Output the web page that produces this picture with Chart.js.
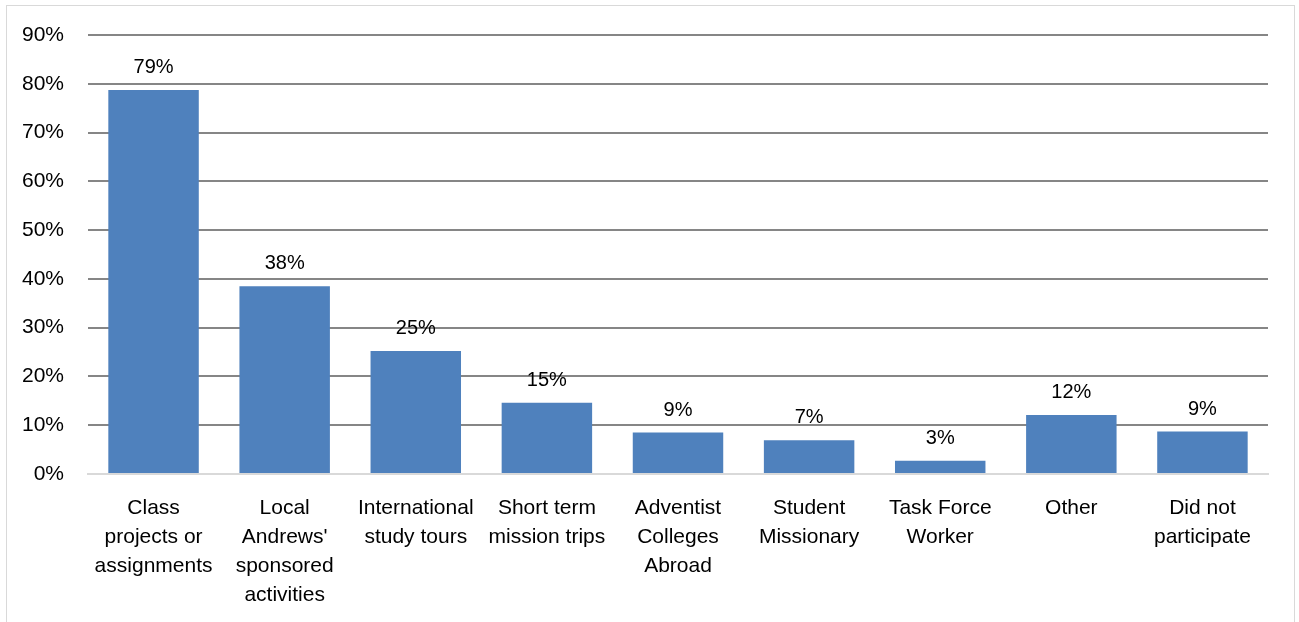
<!DOCTYPE html>
<html>
<head>
<meta charset="utf-8">
<script src="https://cdn.jsdelivr.net/npm/chart.js@4.4.1/dist/chart.umd.min.js"></script>
<style>
  html, body { margin: 0; padding: 0; background: #ffffff; }
  #wrap { position: absolute; left: 0; top: 0; width: 1299px; height: 622px; }
  #frame { position: absolute; left: 6px; top: 5px; width: 1289px; height: 640px; border: 1px solid #d9d9d9; box-sizing: border-box; }
</style>
</head>
<body>
<div id="frame"></div>
<div id="wrap"><canvas id="c" width="1299" height="622"></canvas></div>
<script>
const categories = [
  ["Class", "projects or", "assignments"],
  ["Local", "Andrews'", "sponsored", "activities"],
  ["International", "study tours"],
  ["Short term", "mission trips"],
  ["Adventist", "Colleges", "Abroad"],
  ["Student", "Missionary"],
  ["Task Force", "Worker"],
  ["Other"],
  ["Did not", "participate"]
];
const values = [78.7, 38.5, 25.2, 14.6, 8.5, 6.9, 2.7, 12.1, 8.7];
const dataLabels = ["79%", "38%", "25%", "15%", "9%", "7%", "3%", "12%", "9%"];
const yTicks = [0, 10, 20, 30, 40, 50, 60, 70, 80, 90];

const FONT = "'Liberation Sans', Arial, sans-serif";

const labelPlugin = {
  id: 'barLabels',
  afterDatasetsDraw(chart) {
    const ctx = chart.ctx;
    const meta = chart.getDatasetMeta(0);
    ctx.save();
    ctx.font = "20px " + FONT;
    ctx.fillStyle = "#000000";
    ctx.textAlign = "center";
    ctx.textBaseline = "alphabetic";
    meta.data.forEach((bar, i) => {
      ctx.fillText(dataLabels[i], bar.x, bar.y - 17);
    });
    ctx.restore();
  }
};

new Chart(document.getElementById('c'), {
  type: 'bar',
  data: {
    labels: categories,
    datasets: [{
      data: values,
      backgroundColor: '#4f81bd',
      borderWidth: 0,
      barPercentage: 0.69,
      categoryPercentage: 1.0
    }]
  },
  options: {
    responsive: false,
    animation: false,
    devicePixelRatio: 1,
    layout: { padding: { left: 0, right: 31, top: 35, bottom: 0 } },
    plugins: { legend: { display: false }, tooltip: { enabled: false } },
    scales: {
      x: {
        grid: { display: false, drawTicks: false },
        border: { display: true, color: '#d9d9d9', width: 2 },
        ticks: {
          color: '#000000',
          font: { family: FONT, size: 21, lineHeight: 1.38 },
          maxRotation: 0, minRotation: 0, autoSkip: false,
          padding: 20
        },
        afterFit(scale) { scale.height = 148; scale.paddingLeft = 0; scale.paddingRight = 0; }
      },
      y: {
        min: 0, max: 90,
        afterBuildTicks(scale) { scale.ticks = yTicks.map(v => ({ value: v })); },
        grid: { color: '#868686', lineWidth: 2, drawTicks: false },
        border: { display: false },
        ticks: {
          color: '#000000',
          font: { family: FONT, size: 21 },
          padding: 24,
          callback: v => v + '%'
        },
        afterFit(scale) { scale.width = 88; scale.paddingTop = 0; scale.paddingBottom = 0; }
      }
    }
  },
  plugins: [labelPlugin]
});
</script>
</body>
</html>
